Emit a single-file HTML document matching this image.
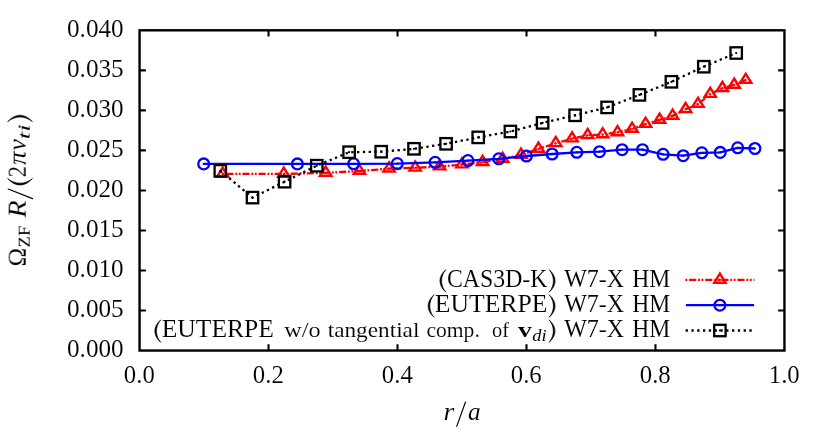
<!DOCTYPE html>
<html><head><meta charset="utf-8"><title>plot</title>
<style>
html,body{margin:0;padding:0;background:#fff;}
body{width:830px;height:432px;overflow:hidden;}
svg{display:block;}
text{font-family:"Liberation Serif",serif;fill:#000;}
</style></head><body>
<svg width="830" height="432" viewBox="0 0 830 432">
<defs><filter id="ga" x="-5%" y="-20%" width="110%" height="140%"><feOffset dx="0" dy="0"/></filter></defs>
<rect width="830" height="432" fill="#fff"/>
<g id="red">
<polyline points="222.6,173.9 283.8,173.9 325.7,172.9 359.4,171.0 389.1,168.7 415.2,167.8 439.6,166.6 461.9,164.6 482.6,162.2 502.7,159.0 521.0,154.9 538.4,148.9 555.8,143.3 572.1,138.6 587.7,135.3 602.7,134.5 617.5,132.4 632.1,129.0 645.6,124.0 659.6,119.9 672.6,115.9 685.6,109.3 698.0,104.1 710.2,94.1 722.4,88.2 734.2,84.9 745.7,80.1" fill="none" stroke="#ff0000" stroke-width="2.3" stroke-dasharray="1.9 1.8 7.2 1.8 1.9 1.5"/>
<path d="M222.60 167.57L216.95 176.72L228.25 176.72Z" fill="none" stroke="#ff0000" stroke-width="2.4" stroke-linejoin="miter"/><circle cx="222.60" cy="173.90" r="1.1" fill="#ff0000"/>
<path d="M283.75 167.57L278.10 176.72L289.40 176.72Z" fill="none" stroke="#ff0000" stroke-width="2.4" stroke-linejoin="miter"/><circle cx="283.75" cy="173.90" r="1.1" fill="#ff0000"/>
<path d="M325.70 166.57L320.05 175.72L331.35 175.72Z" fill="none" stroke="#ff0000" stroke-width="2.4" stroke-linejoin="miter"/><circle cx="325.70" cy="172.90" r="1.1" fill="#ff0000"/>
<path d="M359.40 164.67L353.75 173.82L365.05 173.82Z" fill="none" stroke="#ff0000" stroke-width="2.4" stroke-linejoin="miter"/><circle cx="359.40" cy="171.00" r="1.1" fill="#ff0000"/>
<path d="M389.10 162.37L383.45 171.52L394.75 171.52Z" fill="none" stroke="#ff0000" stroke-width="2.4" stroke-linejoin="miter"/><circle cx="389.10" cy="168.70" r="1.1" fill="#ff0000"/>
<path d="M415.20 161.47L409.55 170.62L420.85 170.62Z" fill="none" stroke="#ff0000" stroke-width="2.4" stroke-linejoin="miter"/><circle cx="415.20" cy="167.80" r="1.1" fill="#ff0000"/>
<path d="M439.60 160.27L433.95 169.42L445.25 169.42Z" fill="none" stroke="#ff0000" stroke-width="2.4" stroke-linejoin="miter"/><circle cx="439.60" cy="166.60" r="1.1" fill="#ff0000"/>
<path d="M461.90 158.27L456.25 167.42L467.55 167.42Z" fill="none" stroke="#ff0000" stroke-width="2.4" stroke-linejoin="miter"/><circle cx="461.90" cy="164.60" r="1.1" fill="#ff0000"/>
<path d="M482.60 155.87L476.95 165.02L488.25 165.02Z" fill="none" stroke="#ff0000" stroke-width="2.4" stroke-linejoin="miter"/><circle cx="482.60" cy="162.20" r="1.1" fill="#ff0000"/>
<path d="M502.70 152.67L497.05 161.82L508.35 161.82Z" fill="none" stroke="#ff0000" stroke-width="2.4" stroke-linejoin="miter"/><circle cx="502.70" cy="159.00" r="1.1" fill="#ff0000"/>
<path d="M521.00 148.57L515.35 157.72L526.65 157.72Z" fill="none" stroke="#ff0000" stroke-width="2.4" stroke-linejoin="miter"/><circle cx="521.00" cy="154.90" r="1.1" fill="#ff0000"/>
<path d="M538.40 142.57L532.75 151.72L544.05 151.72Z" fill="none" stroke="#ff0000" stroke-width="2.4" stroke-linejoin="miter"/><circle cx="538.40" cy="148.90" r="1.1" fill="#ff0000"/>
<path d="M555.80 136.97L550.15 146.12L561.45 146.12Z" fill="none" stroke="#ff0000" stroke-width="2.4" stroke-linejoin="miter"/><circle cx="555.80" cy="143.30" r="1.1" fill="#ff0000"/>
<path d="M572.10 132.27L566.45 141.42L577.75 141.42Z" fill="none" stroke="#ff0000" stroke-width="2.4" stroke-linejoin="miter"/><circle cx="572.10" cy="138.60" r="1.1" fill="#ff0000"/>
<path d="M587.70 128.97L582.05 138.12L593.35 138.12Z" fill="none" stroke="#ff0000" stroke-width="2.4" stroke-linejoin="miter"/><circle cx="587.70" cy="135.30" r="1.1" fill="#ff0000"/>
<path d="M602.70 128.17L597.05 137.32L608.35 137.32Z" fill="none" stroke="#ff0000" stroke-width="2.4" stroke-linejoin="miter"/><circle cx="602.70" cy="134.50" r="1.1" fill="#ff0000"/>
<path d="M617.50 126.07L611.85 135.22L623.15 135.22Z" fill="none" stroke="#ff0000" stroke-width="2.4" stroke-linejoin="miter"/><circle cx="617.50" cy="132.40" r="1.1" fill="#ff0000"/>
<path d="M632.10 122.67L626.45 131.82L637.75 131.82Z" fill="none" stroke="#ff0000" stroke-width="2.4" stroke-linejoin="miter"/><circle cx="632.10" cy="129.00" r="1.1" fill="#ff0000"/>
<path d="M645.60 117.67L639.95 126.83L651.25 126.83Z" fill="none" stroke="#ff0000" stroke-width="2.4" stroke-linejoin="miter"/><circle cx="645.60" cy="124.00" r="1.1" fill="#ff0000"/>
<path d="M659.60 113.57L653.95 122.73L665.25 122.73Z" fill="none" stroke="#ff0000" stroke-width="2.4" stroke-linejoin="miter"/><circle cx="659.60" cy="119.90" r="1.1" fill="#ff0000"/>
<path d="M672.60 109.57L666.95 118.73L678.25 118.73Z" fill="none" stroke="#ff0000" stroke-width="2.4" stroke-linejoin="miter"/><circle cx="672.60" cy="115.90" r="1.1" fill="#ff0000"/>
<path d="M685.60 102.97L679.95 112.12L691.25 112.12Z" fill="none" stroke="#ff0000" stroke-width="2.4" stroke-linejoin="miter"/><circle cx="685.60" cy="109.30" r="1.1" fill="#ff0000"/>
<path d="M698.00 97.77L692.35 106.92L703.65 106.92Z" fill="none" stroke="#ff0000" stroke-width="2.4" stroke-linejoin="miter"/><circle cx="698.00" cy="104.10" r="1.1" fill="#ff0000"/>
<path d="M710.20 87.77L704.55 96.92L715.85 96.92Z" fill="none" stroke="#ff0000" stroke-width="2.4" stroke-linejoin="miter"/><circle cx="710.20" cy="94.10" r="1.1" fill="#ff0000"/>
<path d="M722.40 81.87L716.75 91.03L728.05 91.03Z" fill="none" stroke="#ff0000" stroke-width="2.4" stroke-linejoin="miter"/><circle cx="722.40" cy="88.20" r="1.1" fill="#ff0000"/>
<path d="M734.20 78.57L728.55 87.73L739.85 87.73Z" fill="none" stroke="#ff0000" stroke-width="2.4" stroke-linejoin="miter"/><circle cx="734.20" cy="84.90" r="1.1" fill="#ff0000"/>
<path d="M745.70 73.77L740.05 82.92L751.35 82.92Z" fill="none" stroke="#ff0000" stroke-width="2.4" stroke-linejoin="miter"/><circle cx="745.70" cy="80.10" r="1.1" fill="#ff0000"/>
</g>
<g id="blue">
<polyline points="203.7,163.9 297.4,163.9 353.6,163.8 397.3,163.6 435.1,162.3 467.9,160.6 498.8,158.8 526.4,156.0 552.1,154.0 576.8,152.3 599.5,151.7 622.1,149.7 642.5,149.7 663.1,154.3 683.2,155.7 701.8,152.8 720.2,152.4 737.7,147.8 754.9,148.5" fill="none" stroke="#0000ff" stroke-width="2.3" stroke-linejoin="round"/>
<circle cx="203.70" cy="163.90" r="5.40" fill="none" stroke="#0000ff" stroke-width="2.3"/><circle cx="203.70" cy="163.90" r="1.1" fill="#0000ff"/>
<circle cx="297.40" cy="163.90" r="5.40" fill="none" stroke="#0000ff" stroke-width="2.3"/><circle cx="297.40" cy="163.90" r="1.1" fill="#0000ff"/>
<circle cx="353.60" cy="163.80" r="5.40" fill="none" stroke="#0000ff" stroke-width="2.3"/><circle cx="353.60" cy="163.80" r="1.1" fill="#0000ff"/>
<circle cx="397.30" cy="163.60" r="5.40" fill="none" stroke="#0000ff" stroke-width="2.3"/><circle cx="397.30" cy="163.60" r="1.1" fill="#0000ff"/>
<circle cx="435.10" cy="162.30" r="5.40" fill="none" stroke="#0000ff" stroke-width="2.3"/><circle cx="435.10" cy="162.30" r="1.1" fill="#0000ff"/>
<circle cx="467.90" cy="160.60" r="5.40" fill="none" stroke="#0000ff" stroke-width="2.3"/><circle cx="467.90" cy="160.60" r="1.1" fill="#0000ff"/>
<circle cx="498.80" cy="158.80" r="5.40" fill="none" stroke="#0000ff" stroke-width="2.3"/><circle cx="498.80" cy="158.80" r="1.1" fill="#0000ff"/>
<circle cx="526.40" cy="156.00" r="5.40" fill="none" stroke="#0000ff" stroke-width="2.3"/><circle cx="526.40" cy="156.00" r="1.1" fill="#0000ff"/>
<circle cx="552.10" cy="154.00" r="5.40" fill="none" stroke="#0000ff" stroke-width="2.3"/><circle cx="552.10" cy="154.00" r="1.1" fill="#0000ff"/>
<circle cx="576.80" cy="152.30" r="5.40" fill="none" stroke="#0000ff" stroke-width="2.3"/><circle cx="576.80" cy="152.30" r="1.1" fill="#0000ff"/>
<circle cx="599.50" cy="151.70" r="5.40" fill="none" stroke="#0000ff" stroke-width="2.3"/><circle cx="599.50" cy="151.70" r="1.1" fill="#0000ff"/>
<circle cx="622.10" cy="149.70" r="5.40" fill="none" stroke="#0000ff" stroke-width="2.3"/><circle cx="622.10" cy="149.70" r="1.1" fill="#0000ff"/>
<circle cx="642.50" cy="149.70" r="5.40" fill="none" stroke="#0000ff" stroke-width="2.3"/><circle cx="642.50" cy="149.70" r="1.1" fill="#0000ff"/>
<circle cx="663.10" cy="154.30" r="5.40" fill="none" stroke="#0000ff" stroke-width="2.3"/><circle cx="663.10" cy="154.30" r="1.1" fill="#0000ff"/>
<circle cx="683.20" cy="155.70" r="5.40" fill="none" stroke="#0000ff" stroke-width="2.3"/><circle cx="683.20" cy="155.70" r="1.1" fill="#0000ff"/>
<circle cx="701.80" cy="152.80" r="5.40" fill="none" stroke="#0000ff" stroke-width="2.3"/><circle cx="701.80" cy="152.80" r="1.1" fill="#0000ff"/>
<circle cx="720.20" cy="152.40" r="5.40" fill="none" stroke="#0000ff" stroke-width="2.3"/><circle cx="720.20" cy="152.40" r="1.1" fill="#0000ff"/>
<circle cx="737.70" cy="147.80" r="5.40" fill="none" stroke="#0000ff" stroke-width="2.3"/><circle cx="737.70" cy="147.80" r="1.1" fill="#0000ff"/>
<circle cx="754.90" cy="148.50" r="5.40" fill="none" stroke="#0000ff" stroke-width="2.3"/><circle cx="754.90" cy="148.50" r="1.1" fill="#0000ff"/>
</g>
<g id="black">
<polyline points="220.3,170.8 252.5,197.6 284.6,181.7 316.8,165.7 349.1,152.2 381.2,151.7 414.0,148.8 446.1,143.8 478.2,137.4 510.4,131.5 542.6,122.9 575.1,115.3 607.1,107.4 639.4,94.9 671.4,81.8 703.8,66.7 736.2,53.0" fill="none" stroke="#000000" stroke-width="2.3" stroke-dasharray="2.3 3.5"/>
<rect x="214.60" y="165.10" width="11.40" height="11.40" fill="none" stroke="#000000" stroke-width="2.3"/><circle cx="220.30" cy="170.80" r="1.1" fill="#000000"/>
<rect x="246.80" y="191.90" width="11.40" height="11.40" fill="none" stroke="#000000" stroke-width="2.3"/><circle cx="252.50" cy="197.60" r="1.1" fill="#000000"/>
<rect x="278.90" y="176.00" width="11.40" height="11.40" fill="none" stroke="#000000" stroke-width="2.3"/><circle cx="284.60" cy="181.70" r="1.1" fill="#000000"/>
<rect x="311.10" y="160.00" width="11.40" height="11.40" fill="none" stroke="#000000" stroke-width="2.3"/><circle cx="316.80" cy="165.70" r="1.1" fill="#000000"/>
<rect x="343.40" y="146.50" width="11.40" height="11.40" fill="none" stroke="#000000" stroke-width="2.3"/><circle cx="349.10" cy="152.20" r="1.1" fill="#000000"/>
<rect x="375.50" y="146.00" width="11.40" height="11.40" fill="none" stroke="#000000" stroke-width="2.3"/><circle cx="381.20" cy="151.70" r="1.1" fill="#000000"/>
<rect x="408.30" y="143.10" width="11.40" height="11.40" fill="none" stroke="#000000" stroke-width="2.3"/><circle cx="414.00" cy="148.80" r="1.1" fill="#000000"/>
<rect x="440.40" y="138.10" width="11.40" height="11.40" fill="none" stroke="#000000" stroke-width="2.3"/><circle cx="446.10" cy="143.80" r="1.1" fill="#000000"/>
<rect x="472.50" y="131.70" width="11.40" height="11.40" fill="none" stroke="#000000" stroke-width="2.3"/><circle cx="478.20" cy="137.40" r="1.1" fill="#000000"/>
<rect x="504.70" y="125.80" width="11.40" height="11.40" fill="none" stroke="#000000" stroke-width="2.3"/><circle cx="510.40" cy="131.50" r="1.1" fill="#000000"/>
<rect x="536.90" y="117.20" width="11.40" height="11.40" fill="none" stroke="#000000" stroke-width="2.3"/><circle cx="542.60" cy="122.90" r="1.1" fill="#000000"/>
<rect x="569.40" y="109.60" width="11.40" height="11.40" fill="none" stroke="#000000" stroke-width="2.3"/><circle cx="575.10" cy="115.30" r="1.1" fill="#000000"/>
<rect x="601.40" y="101.70" width="11.40" height="11.40" fill="none" stroke="#000000" stroke-width="2.3"/><circle cx="607.10" cy="107.40" r="1.1" fill="#000000"/>
<rect x="633.70" y="89.20" width="11.40" height="11.40" fill="none" stroke="#000000" stroke-width="2.3"/><circle cx="639.40" cy="94.90" r="1.1" fill="#000000"/>
<rect x="665.70" y="76.10" width="11.40" height="11.40" fill="none" stroke="#000000" stroke-width="2.3"/><circle cx="671.40" cy="81.80" r="1.1" fill="#000000"/>
<rect x="698.10" y="61.00" width="11.40" height="11.40" fill="none" stroke="#000000" stroke-width="2.3"/><circle cx="703.80" cy="66.70" r="1.1" fill="#000000"/>
<rect x="730.50" y="47.30" width="11.40" height="11.40" fill="none" stroke="#000000" stroke-width="2.3"/><circle cx="736.20" cy="53.00" r="1.1" fill="#000000"/>
</g>
<g id="legend-samples">
<line x1="685.4" y1="279.9" x2="754.4" y2="279.9" stroke="#ff0000" stroke-width="2.3" stroke-dasharray="1.9 1.8 7.2 1.8 1.9 1.5"/>
<path d="M719.90 273.57L714.25 282.72L725.55 282.72Z" fill="none" stroke="#ff0000" stroke-width="2.4" stroke-linejoin="miter"/><circle cx="719.90" cy="279.90" r="1.1" fill="#ff0000"/>
<line x1="685.9" y1="305.2" x2="754.1" y2="305.2" stroke="#0000ff" stroke-width="2.3"/>
<circle cx="719.90" cy="305.20" r="5.40" fill="none" stroke="#0000ff" stroke-width="2.3"/><circle cx="719.90" cy="305.20" r="1.1" fill="#0000ff"/>
<line x1="685.6" y1="330.5" x2="754.4" y2="330.5" stroke="#000000" stroke-width="2.3" stroke-dasharray="2.3 3.5"/>
<rect x="714.20" y="324.80" width="11.40" height="11.40" fill="none" stroke="#000000" stroke-width="2.3"/><circle cx="719.90" cy="330.50" r="1.1" fill="#000000"/>
</g>
<g id="axes" stroke="#000" stroke-width="2.4" fill="none">
<rect x="139.55" y="30.3" width="644.90" height="320.25"/>
<path d="M139.55 310.52h6.3M784.45 310.52h-6.3M139.55 270.49h6.3M784.45 270.49h-6.3M139.55 230.46h6.3M784.45 230.46h-6.3M139.55 190.43h6.3M784.45 190.43h-6.3M139.55 150.39h6.3M784.45 150.39h-6.3M139.55 110.36h6.3M784.45 110.36h-6.3M139.55 70.33h6.3M784.45 70.33h-6.3M268.53 350.55v-6.3M268.53 30.3v6.3M397.51 350.55v-6.3M397.51 30.3v6.3M526.49 350.55v-6.3M526.49 30.3v6.3M655.47 350.55v-6.3M655.47 30.3v6.3" stroke-width="2.1"/>
</g>
<g id="ticklabels" font-size="24.4" stroke="#fff" stroke-width="0.1" paint-order="fill" filter="url(#ga)">
<text x="123.7" y="357.35" text-anchor="end" textLength="56.7" lengthAdjust="spacingAndGlyphs">0.000</text>
<text x="123.7" y="317.32" text-anchor="end" textLength="56.7" lengthAdjust="spacingAndGlyphs">0.005</text>
<text x="123.7" y="277.29" text-anchor="end" textLength="56.7" lengthAdjust="spacingAndGlyphs">0.010</text>
<text x="123.7" y="237.26" text-anchor="end" textLength="56.7" lengthAdjust="spacingAndGlyphs">0.015</text>
<text x="123.7" y="197.23" text-anchor="end" textLength="56.7" lengthAdjust="spacingAndGlyphs">0.020</text>
<text x="123.7" y="157.19" text-anchor="end" textLength="56.7" lengthAdjust="spacingAndGlyphs">0.025</text>
<text x="123.7" y="117.16" text-anchor="end" textLength="56.7" lengthAdjust="spacingAndGlyphs">0.030</text>
<text x="123.7" y="77.13" text-anchor="end" textLength="56.7" lengthAdjust="spacingAndGlyphs">0.035</text>
<text x="123.7" y="37.10" text-anchor="end" textLength="56.7" lengthAdjust="spacingAndGlyphs">0.040</text>
<text x="139.35" y="382.5" text-anchor="middle" textLength="31.0" lengthAdjust="spacingAndGlyphs">0.0</text>
<text x="268.33" y="382.5" text-anchor="middle" textLength="31.0" lengthAdjust="spacingAndGlyphs">0.2</text>
<text x="397.31" y="382.5" text-anchor="middle" textLength="31.0" lengthAdjust="spacingAndGlyphs">0.4</text>
<text x="526.29" y="382.5" text-anchor="middle" textLength="31.0" lengthAdjust="spacingAndGlyphs">0.6</text>
<text x="655.27" y="382.5" text-anchor="middle" textLength="31.0" lengthAdjust="spacingAndGlyphs">0.8</text>
<text x="784.25" y="382.5" text-anchor="middle" textLength="31.0" lengthAdjust="spacingAndGlyphs">1.0</text>
</g>
<g id="legend-text" font-size="25.0" stroke="#fff" stroke-width="0.1" paint-order="fill" filter="url(#ga)">
<text x="564.20" y="286.80" textLength="60.00" lengthAdjust="spacingAndGlyphs">W7-X</text>
<text x="632.20" y="286.80" textLength="38.00" lengthAdjust="spacingAndGlyphs">HM</text>
<text x="564.20" y="311.90" textLength="60.00" lengthAdjust="spacingAndGlyphs">W7-X</text>
<text x="632.20" y="311.90" textLength="38.00" lengthAdjust="spacingAndGlyphs">HM</text>
<text x="564.20" y="337.00" textLength="60.00" lengthAdjust="spacingAndGlyphs">W7-X</text>
<text x="632.20" y="337.00" textLength="38.00" lengthAdjust="spacingAndGlyphs">HM</text>
<text x="447.00" y="286.80" textLength="100.40" lengthAdjust="spacingAndGlyphs">CAS3D-K</text>
<text x="434.80" y="311.90" textLength="112.60" lengthAdjust="spacingAndGlyphs">EUTERPE</text>
<text x="161.70" y="337.00" textLength="112.30" lengthAdjust="spacingAndGlyphs">EUTERPE</text>
<text x="284.20" y="337.00" textLength="36.30" lengthAdjust="spacingAndGlyphs" font-size="21.8">w/o</text>
<text x="327.70" y="337.00" textLength="91.70" lengthAdjust="spacingAndGlyphs" font-size="21.8">tangential</text>
<text x="426.40" y="337.00" textLength="53.40" lengthAdjust="spacingAndGlyphs" font-size="21.8">comp.</text>
<text x="492.00" y="337.00" textLength="17.00" lengthAdjust="spacingAndGlyphs" font-size="21.8">of</text>
<text x="518.00" y="337.00" textLength="13.90" lengthAdjust="spacingAndGlyphs" font-size="21.8" font-weight="bold">v</text>
<text x="532.3" y="340.90" textLength="14.3" lengthAdjust="spacingAndGlyphs" font-size="16.8" font-style="italic" stroke="none">di</text>
</g>
<g id="legend-parens">
<path d="M445.89 269.62C437.90 276.40 437.90 285.44 445.89 292.22C440.16 285.44 440.16 276.40 445.89 269.62Z" fill="#000" stroke="#000" stroke-width="0.6" stroke-linejoin="round"/>
<path d="M549.11 269.62C557.10 276.40 557.10 285.44 549.11 292.22C554.84 285.44 554.84 276.40 549.11 269.62Z" fill="#000" stroke="#000" stroke-width="0.6" stroke-linejoin="round"/>
<path d="M434.09 294.72C426.10 301.50 426.10 310.54 434.09 317.32C428.36 310.54 428.36 301.50 434.09 294.72Z" fill="#000" stroke="#000" stroke-width="0.6" stroke-linejoin="round"/>
<path d="M549.11 294.72C557.10 301.50 557.10 310.54 549.11 317.32C554.84 310.54 554.84 301.50 549.11 294.72Z" fill="#000" stroke="#000" stroke-width="0.6" stroke-linejoin="round"/>
<path d="M160.79 319.82C152.80 326.60 152.80 335.64 160.79 342.42C155.06 335.64 155.06 326.60 160.79 319.82Z" fill="#000" stroke="#000" stroke-width="0.6" stroke-linejoin="round"/>
<path d="M549.01 319.82C557.00 326.60 557.00 335.64 549.01 342.42C554.74 335.64 554.74 326.60 549.01 319.82Z" fill="#000" stroke="#000" stroke-width="0.6" stroke-linejoin="round"/>
</g>
<g id="xlabel" font-size="25" font-style="italic" stroke="#fff" stroke-width="0.1" paint-order="fill" filter="url(#ga)">
<text x="443.5" y="420.3" textLength="10.8" lengthAdjust="spacingAndGlyphs">r</text>
<text x="468.0" y="420.3" textLength="12.6" lengthAdjust="spacingAndGlyphs">a</text>
</g>
<line x1="456.70" y1="426.33" x2="465.50" y2="401.97" stroke="#000" stroke-width="1.15" stroke-linecap="round"/>
<g id="ylabel" transform="translate(26.5 266) rotate(-90)">
<g font-size="24.6" stroke="#fff" stroke-width="0.1" paint-order="fill" filter="url(#ga)" transform="translate(0 -0.8)">
<text x="-0.4" y="0" textLength="18.7" lengthAdjust="spacingAndGlyphs">&#937;</text>
<text x="18.6" y="3.7" font-size="17.6" stroke="none" textLength="21.6" lengthAdjust="spacingAndGlyphs">ZF</text>
<text x="48.3" y="0" font-style="italic" textLength="17.4" lengthAdjust="spacingAndGlyphs">R</text>
<text x="88.7" y="0" textLength="11.2" lengthAdjust="spacingAndGlyphs">2</text>
<text x="100.9" y="0" font-style="italic" textLength="13.6" lengthAdjust="spacingAndGlyphs">&#960;</text>
<text x="115.6" y="0" font-style="italic" textLength="11.4" lengthAdjust="spacingAndGlyphs">v</text>
<text x="126.8" y="3.7" font-size="17.6" font-style="italic" stroke="none" textLength="14.8" lengthAdjust="spacingAndGlyphs">ti</text>
</g>
<line x1="67.40" y1="6.03" x2="77.00" y2="-18.33" stroke="#000" stroke-width="1.15" stroke-linecap="round"/>
<path d="M87.57 -18.85C78.81 -11.41 78.81 -1.49 87.57 5.95C81.29 -1.49 81.29 -11.41 87.57 -18.85Z" fill="#000" stroke="#000" stroke-width="0.6" stroke-linejoin="round"/>
<path d="M144.23 -18.85C152.99 -11.41 152.99 -1.49 144.23 5.95C150.51 -1.49 150.51 -11.41 144.23 -18.85Z" fill="#000" stroke="#000" stroke-width="0.6" stroke-linejoin="round"/>
</g>
</svg>
</body></html>
